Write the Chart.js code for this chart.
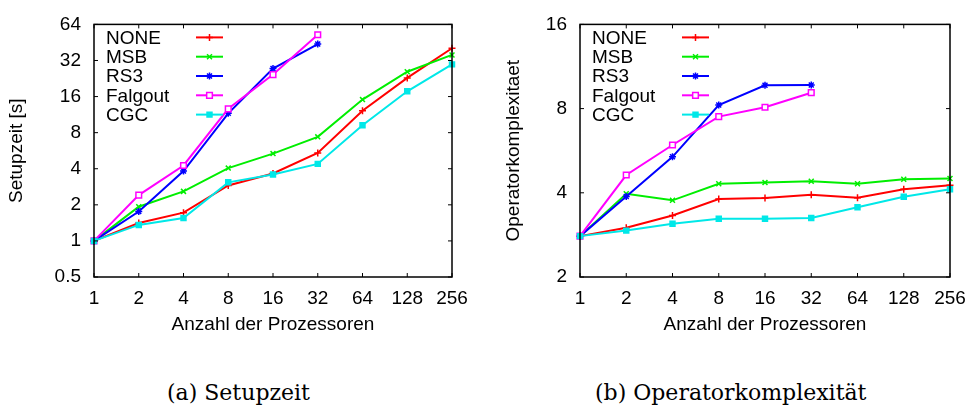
<!DOCTYPE html>
<html>
<head>
<meta charset="utf-8">
<script src="https://cdn.jsdelivr.net/npm/chart.js@4.4.1/dist/chart.umd.min.js"></script>
<style>
  body { margin: 0; background: #fff; }
  #wrap { position: relative; width: 968px; height: 407px; overflow: hidden; }
  canvas { position: absolute; top: 0; }
  .cap { position: absolute; font-family: 'DejaVu Serif', serif; font-size: 22px; color: #000; white-space: nowrap; line-height: 26px; }
</style>
</head>
<body>
<div id="wrap">
  <canvas id="setup" width="484" height="340" style="left:0"></canvas>
  <canvas id="opcomp" width="484" height="340" style="left:484px"></canvas>
  <div class="cap" style="left:167px; top:380px">(a) Setupzeit</div>
  <div class="cap" style="left:595px; top:380px">(b) Operatorkomplexität</div>
</div>
<script>
// x axis: number of processors
const procs = ['1', '2', '4', '8', '16', '32', '64', '128', '256'];
const seriesNames = ['NONE', 'MSB', 'RS3', 'Falgout', 'CGC'];

// setup time [s]
const setupNone    = [1, 1.41, 1.72, 2.9, 3.65, 5.42, 12.2, 22.9, 40.5];
const setupMsb     = [1, 1.93, 2.59, 4.05, 5.35, 7.38, 15.1, 25.8, 35.6];
const setupRs3     = [1, 1.76, 3.83, 11.6, 27.4, 43.9, null, null, null];
const setupFalgout = [1, 2.41, 4.26, 12.65, 24.4, 52.5, null, null, null];
const setupCgc     = [1, 1.36, 1.55, 3.08, 3.58, 4.39, 9.22, 17.7, 29.7];
const setupTicks   = [0.5, 1, 2, 4, 8, 16, 32, 64];

// operator complexity
const opNone    = [2.8, 3.0, 3.32, 3.80, 3.83, 3.94, 3.84, 4.12, 4.26];
const opMsb     = [2.8, 3.97, 3.76, 4.31, 4.35, 4.40, 4.31, 4.47, 4.50];
const opRs3     = [2.8, 3.88, 5.38, 8.24, 9.69, 9.72, null, null, null];
const opFalgout = [2.8, 4.63, 5.93, 7.49, 8.09, 9.12, null, null, null];
const opCgc     = [2.8, 2.93, 3.10, 3.23, 3.23, 3.25, 3.55, 3.87, 4.12];
const opTicks   = [2, 4, 8, 16];

Chart.defaults.font.family = "'Liberation Sans', Arial, sans-serif";
Chart.defaults.font.size = 19;
Chart.defaults.color = '#000';

// gnuplot-like line styles
const styles = [
  { color: '#ff0000', pointStyle: 'cross',    radius: 3.5, fill: '#ff0000' },
  { color: '#00ee00', pointStyle: 'crossRot', radius: 3.5, fill: '#00ee00' },
  { color: '#0000ff', pointStyle: 'star',     radius: 3.5, fill: '#0000ff' },
  { color: '#ff00ff', pointStyle: 'rect',     radius: 4,   fill: '#ffffff' },
  { color: '#00e8e8', pointStyle: 'rect',     radius: 3.5, fill: '#00e8e8' }
];

function makeDatasets(seriesList) {
  return seriesList.map((data, i) => ({
    label: seriesNames[i],
    data: data,
    borderColor: styles[i].color,
    backgroundColor: styles[i].fill,
    borderWidth: 2,
    pointStyle: styles[i].pointStyle,
    pointRadius: styles[i].radius,
    pointBorderWidth: 1.5,
    pointBorderColor: styles[i].color,
    pointBackgroundColor: styles[i].fill,
    tension: 0,
    spanGaps: false,
    order: seriesNames.length - i
  }));
}

// box around the plot, inward ticks on all sides, legend inside top-left
const gnuplotFrame = {
  id: 'gnuplotFrame',
  afterDatasetsDraw(chart) {
    const ctx = chart.ctx;
    const a = chart.chartArea;
    const xs = chart.scales.x, ys = chart.scales.y;
    ctx.save();
    ctx.strokeStyle = '#000';
    ctx.lineWidth = 1.5;
    ctx.strokeRect(a.left, a.top, a.right - a.left, a.bottom - a.top);
    ctx.lineWidth = 1;
    ctx.beginPath();
    xs.ticks.forEach((t, i) => {
      const px = xs.getPixelForTick(i);
      ctx.moveTo(px, a.bottom); ctx.lineTo(px, a.bottom - 4);
      ctx.moveTo(px, a.top); ctx.lineTo(px, a.top + 4);
    });
    ys.ticks.forEach(t => {
      const py = ys.getPixelForValue(t.value);
      ctx.moveTo(a.left, py); ctx.lineTo(a.left + 4, py);
      ctx.moveTo(a.right, py); ctx.lineTo(a.right - 4, py);
    });
    ctx.stroke();

    // legend
    ctx.font = "19px 'Liberation Sans', Arial, sans-serif";
    ctx.textBaseline = 'middle';
    ctx.textAlign = 'left';
    chart.data.datasets.forEach((ds, i) => {
      const y = a.top + 13 + i * 19.3;
      ctx.fillStyle = '#000';
      ctx.fillText(ds.label, a.left + 12, y + 1);
      ctx.strokeStyle = ds.borderColor;
      ctx.lineWidth = 2;
      ctx.beginPath();
      ctx.moveTo(a.left + 102, y); ctx.lineTo(a.left + 129, y);
      ctx.stroke();
      ctx.lineWidth = 1.5;
      ctx.fillStyle = ds.pointBackgroundColor;
      Chart.helpers.drawPoint(ctx, {
        pointStyle: ds.pointStyle, radius: ds.pointRadius, rotation: 0, borderWidth: 1.5
      }, a.left + 115.5, y);
    });
    ctx.restore();
  }
};

function makeChart(id, seriesList, yMin, yMax, yTicks, yTitle, yWidth, padRight, titlePad) {
  return new Chart(document.getElementById(id), {
    type: 'line',
    data: { labels: procs, datasets: makeDatasets(seriesList) },
    options: {
      responsive: false,
      animation: false,
      devicePixelRatio: 1,
      layout: { padding: { top: 16, right: padRight, bottom: 0, left: 0 } },
      plugins: { legend: { display: false }, tooltip: { enabled: false } },
      scales: {
        x: {
          type: 'category',
          offset: false,
          grid: { display: false, drawTicks: false },
          border: { display: false },
          ticks: { padding: 10, maxRotation: 0, autoSkip: false },
          title: { display: true, text: 'Anzahl der Prozessoren', padding: { top: 0, bottom: 4 } },
          afterFit(scale) {
            scale.height = 63;
            // let the layout padding alone decide where the box ends
            scale.paddingLeft = 0;
            scale.paddingRight = 0;
          }
        },
        y: {
          type: 'logarithmic',
          min: yMin,
          max: yMax,
          grid: { display: false, drawTicks: false },
          border: { display: false },
          afterBuildTicks(scale) { scale.ticks = yTicks.map(v => ({ value: v })); },
          ticks: { padding: 13, callback: v => String(v) },
          title: { display: true, text: yTitle, padding: { top: titlePad, bottom: 0 } },
          afterFit(scale) { scale.width = yWidth; }
        }
      }
    },
    plugins: [gnuplotFrame]
  });
}

makeChart('setup', [setupNone, setupMsb, setupRs3, setupFalgout, setupCgc],
  0.5, 64, setupTicks, 'Setupzeit [s]', 94, 32, 5);
makeChart('opcomp', [opNone, opMsb, opRs3, opFalgout, opCgc],
  2, 16, opTicks, 'Operatorkomplexitaet', 96, 18, 18);
</script>
</body>
</html>
